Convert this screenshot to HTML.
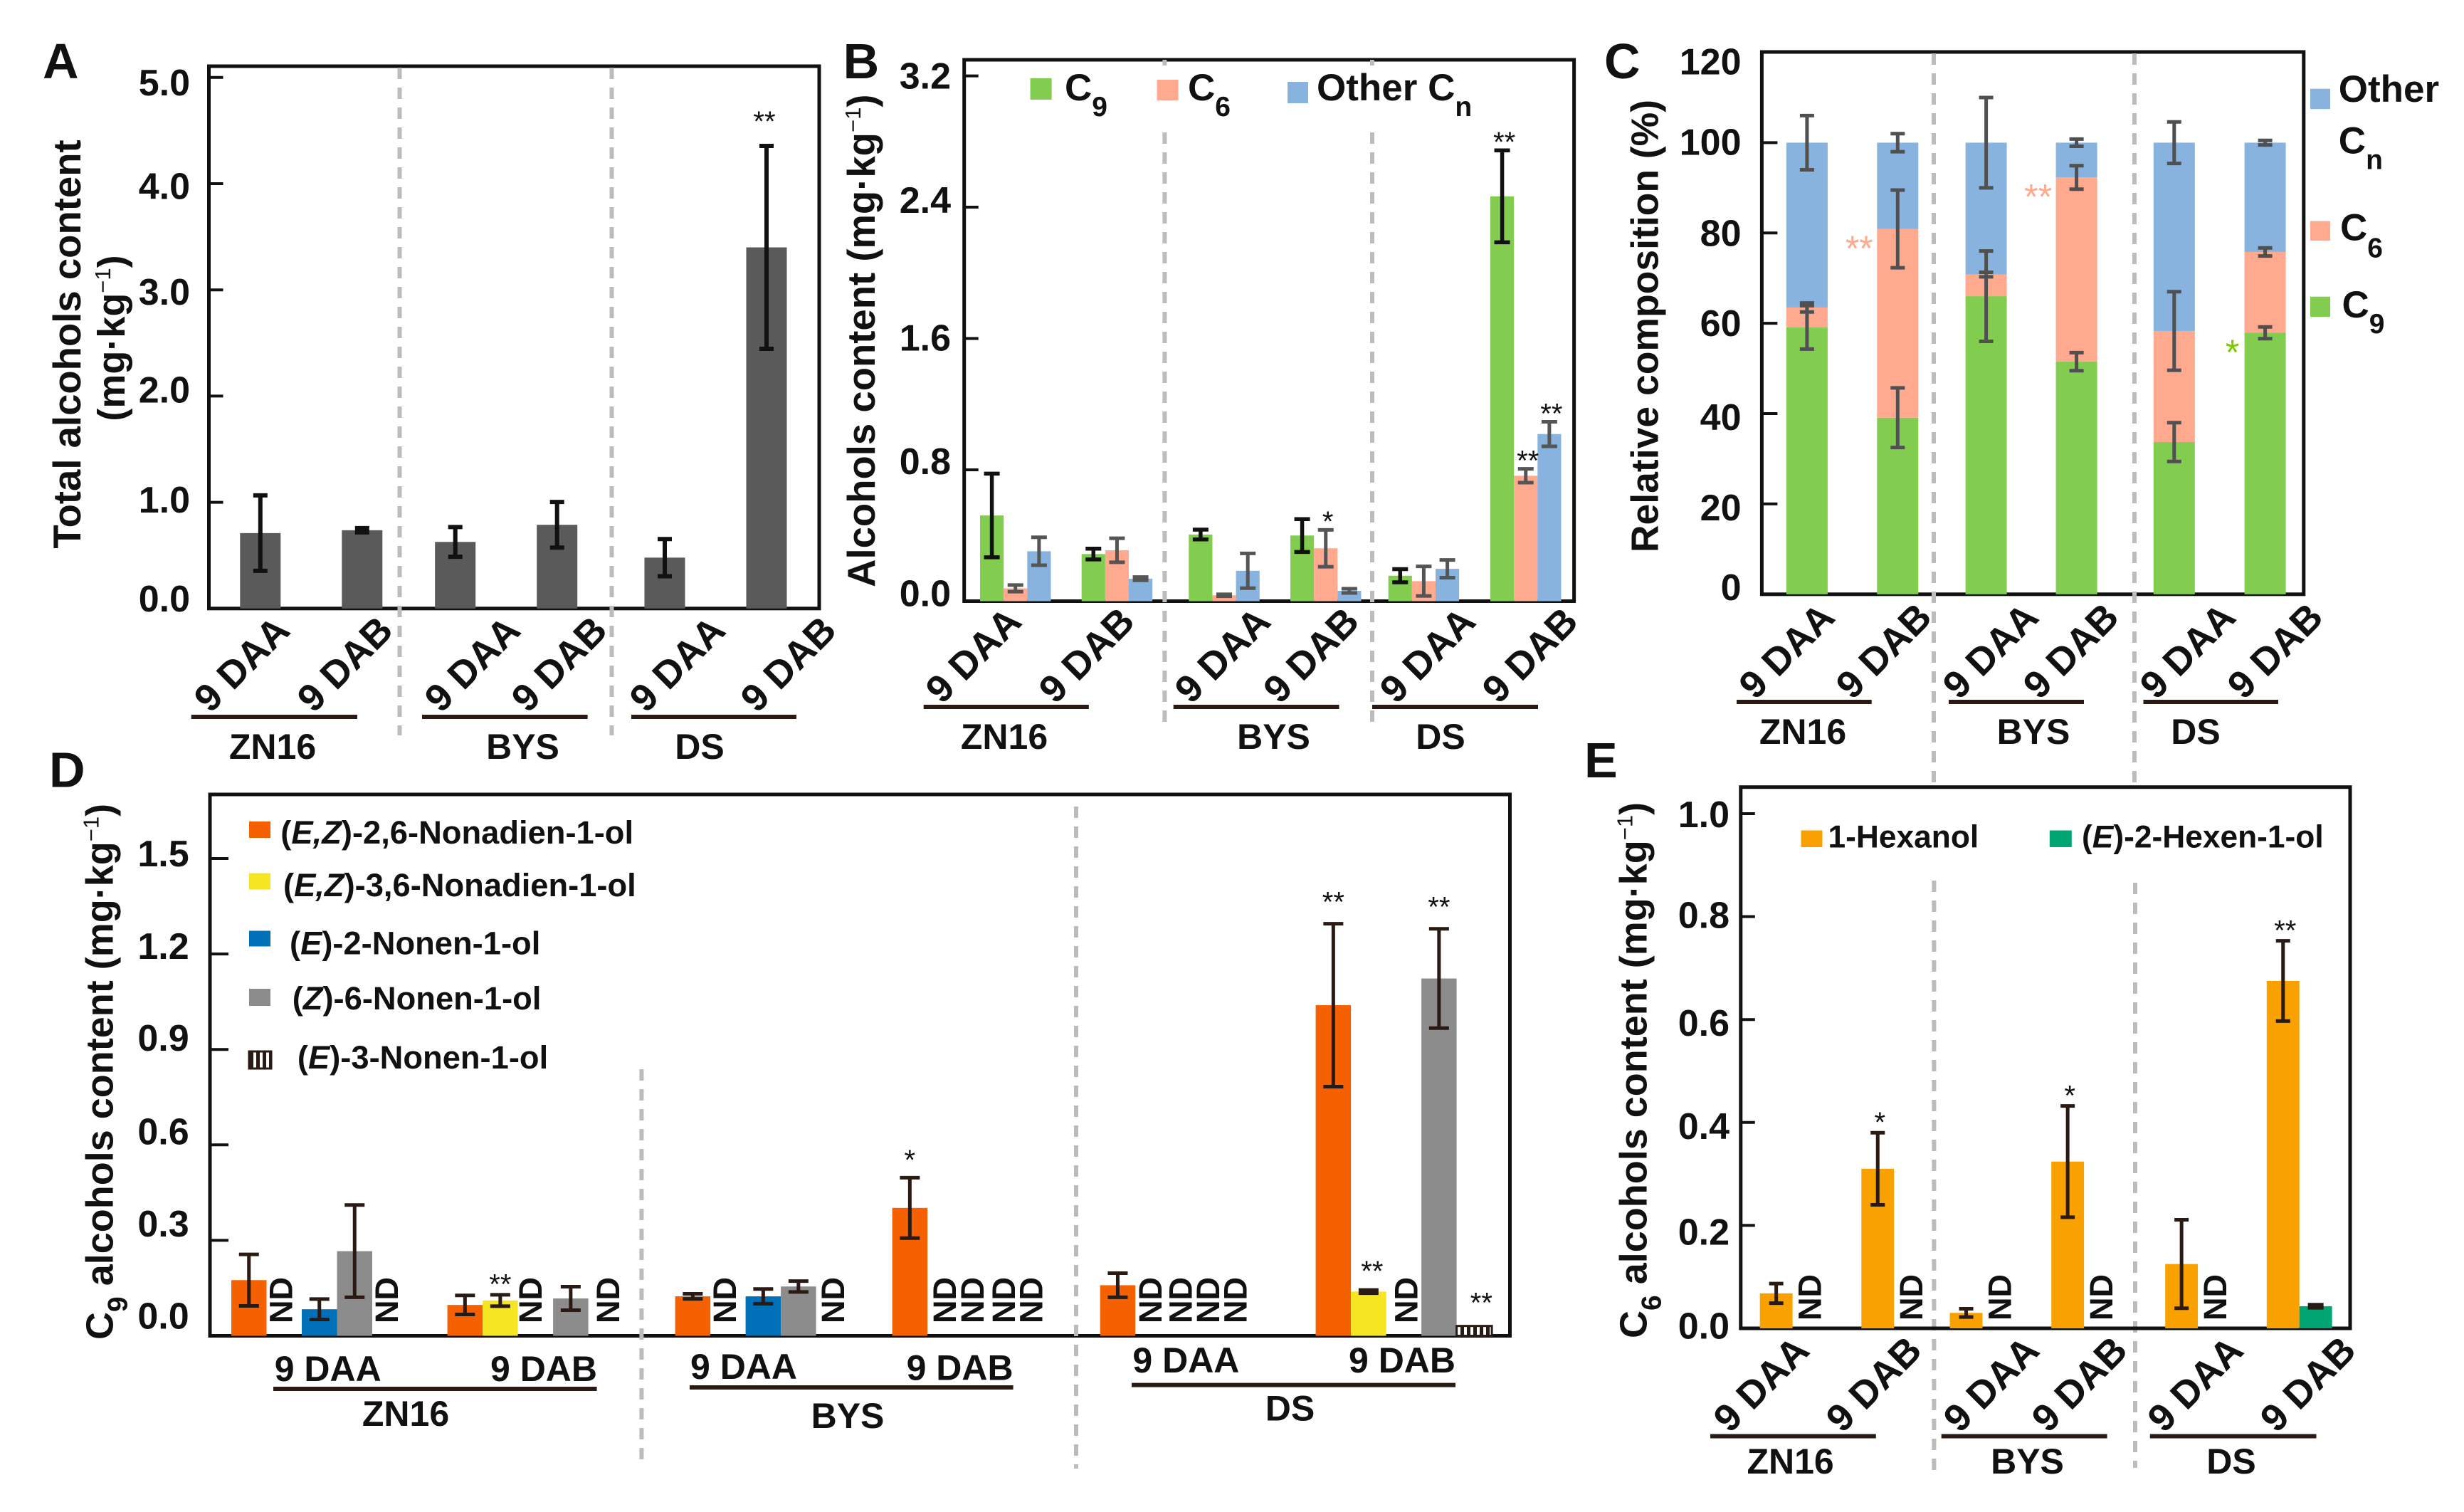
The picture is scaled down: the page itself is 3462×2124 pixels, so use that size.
<!DOCTYPE html>
<html lang="en">
<head>
<meta charset="utf-8">
<title>Alcohols content charts</title>
<style>
html,body{margin:0;padding:0;background:#fff}
svg{display:block}
text{font-family:"Liberation Sans",sans-serif;font-weight:700;fill:#111}
.it{font-style:italic}
.sep{stroke:#bcbcbc;stroke-width:6;stroke-dasharray:16 12;fill:none}
.frame{fill:none;stroke:#111;stroke-width:5}
.rule{stroke:#2a1a14;stroke-width:6}
</style>
</head>
<body>
<svg id="figure" xmlns="http://www.w3.org/2000/svg" width="3462" height="2124" viewBox="0 0 3462 2124">
<defs>
<pattern id="hatch" patternUnits="userSpaceOnUse" width="9" height="9"><rect width="9" height="9" fill="#fff"/><rect width="5" height="9" fill="#2a1a14"/></pattern>
</defs>
<rect width="3462" height="2124" fill="#fff"/>

<!-- Panel A static -->
<g>
<text x="60" y="110" font-size="70">A</text>
<rect class="frame" x="293.5" y="93" width="857.5" height="761.8"/>
<line class="sep" x1="561.5" y1="95" x2="561.5" y2="1033"/>
<line class="sep" x1="859.5" y1="95" x2="859.5" y2="1033"/>
<text transform="translate(113,483.5) rotate(-90)" text-anchor="middle" font-size="54.5">Total alcohols content</text>
<text transform="translate(175,475) rotate(-90)" text-anchor="middle" font-size="54">(mg·kg<tspan dy="-20" font-size="31" font-weight="400">−1</tspan><tspan dy="20">)</tspan></text>
<line class="rule" x1="268.7" y1="1007" x2="502" y2="1007"/>
<line class="rule" x1="593" y1="1007" x2="825.6" y2="1007"/>
<line class="rule" x1="887" y1="1007" x2="1119" y2="1007"/>
<text x="383" y="1066" text-anchor="middle" font-size="50">ZN16</text>
<text x="734.5" y="1066" text-anchor="middle" font-size="50">BYS</text>
<text x="983" y="1066" text-anchor="middle" font-size="50">DS</text>
</g>

<!-- Panel B static -->
<g>
<text x="1184.6" y="110" font-size="70">B</text>
<rect class="frame" x="1354.7" y="84" width="856.9" height="760.5"/>
<line class="sep" x1="1636.4" y1="84" x2="1636.4" y2="92"/>
<line class="sep" x1="1928" y1="84" x2="1928" y2="92"/>
<line class="sep" x1="1636.4" y1="186" x2="1636.4" y2="1019"/>
<line class="sep" x1="1928" y1="186" x2="1928" y2="1019"/>
<text transform="translate(1229,478.7) rotate(-90)" text-anchor="middle" font-size="54.5">Alcohols content (mg·kg<tspan dy="-20" font-size="31" font-weight="400">−1</tspan><tspan dy="20">)</tspan></text>
<g>
<rect x="1447.6" y="110" width="30" height="30" fill="#82cc4f"/>
<text x="1496" y="141" font-size="53">C<tspan dy="22" font-size="39">9</tspan></text>
<rect x="1625.6" y="112" width="30" height="29" fill="#ffaa8f"/>
<text x="1669" y="141" font-size="53">C<tspan dy="22" font-size="39">6</tspan></text>
<rect x="1809" y="115" width="29" height="30" fill="#87b3de"/>
<text x="1850" y="141" font-size="53">Other C<tspan dy="22" font-size="39">n</tspan></text>
</g>
<line class="rule" x1="1297.7" y1="993" x2="1529.8" y2="993"/>
<line class="rule" x1="1648.7" y1="993" x2="1881.5" y2="993"/>
<line class="rule" x1="1928" y1="993" x2="2161" y2="993"/>
<text x="1411" y="1052" text-anchor="middle" font-size="50">ZN16</text>
<text x="1789.5" y="1052" text-anchor="middle" font-size="50">BYS</text>
<text x="2024" y="1052" text-anchor="middle" font-size="50">DS</text>
</g>

<!-- Panel C static -->
<g>
<text x="2254" y="110" font-size="70">C</text>
<rect class="frame" x="2475.4" y="73" width="761.4" height="761.8"/>
<line class="sep" x1="2717" y1="75" x2="2717" y2="1105"/>
<line class="sep" x1="2999" y1="75" x2="2999" y2="1105"/>
<text transform="translate(2329.6,458) rotate(-90)" text-anchor="middle" font-size="53.5">Relative composition (%)</text>
<g>
<rect x="3246" y="124.7" width="28" height="28.5" fill="#87b3de"/>
<text x="3285.8" y="143" font-size="53">Other</text>
<text x="3285.8" y="215.6" font-size="53">C<tspan dy="22" font-size="39">n</tspan></text>
<rect x="3246" y="310.6" width="28" height="27.5" fill="#ffaa8f"/>
<text x="3288" y="337.5" font-size="53">C<tspan dy="24" font-size="39">6</tspan></text>
<rect x="3246" y="416.7" width="28" height="28.5" fill="#82cc4f"/>
<text x="3290.5" y="446" font-size="53">C<tspan dy="22" font-size="39">9</tspan></text>
</g>
<line class="rule" x1="2440" y1="986" x2="2629.7" y2="986"/>
<line class="rule" x1="2738" y1="986" x2="2928" y2="986"/>
<line class="rule" x1="3011.5" y1="986" x2="3201" y2="986"/>
<text x="2533" y="1045" text-anchor="middle" font-size="50">ZN16</text>
<text x="2857" y="1045" text-anchor="middle" font-size="50">BYS</text>
<text x="3085" y="1045" text-anchor="middle" font-size="50">DS</text>
</g>

<!-- Panel D static -->
<g>
<text x="69" y="1105.7" font-size="70">D</text>
<rect class="frame" x="295" y="1116" width="1826.5" height="760.5"/>
<line class="sep" x1="901.4" y1="1502" x2="901.4" y2="2060"/>
<line class="sep" x1="1512" y1="1133" x2="1512" y2="2063"/>
<text transform="translate(158.6,1882) rotate(-90)" font-size="54">C<tspan dy="20" font-size="39">9</tspan><tspan dy="-20"> alcohols content (mg·kg</tspan><tspan dy="-20" font-size="31" font-weight="400">−1</tspan><tspan dy="20">)</tspan></text>
<g>
<rect x="350" y="1154" width="30" height="23" fill="#f56000"/>
<text x="394.3" y="1185" font-size="45.3">(<tspan class="it">E,Z</tspan>)-2,6-Nonadien-1-ol</text>
<rect x="350" y="1226.6" width="30" height="23" fill="#f5e522"/>
<text x="398" y="1259" font-size="45.3">(<tspan class="it">E,Z</tspan>)-3,6-Nonadien-1-ol</text>
<rect x="350" y="1307.5" width="30" height="22" fill="#0070b8"/>
<text x="407" y="1340.7" font-size="45.3">(<tspan class="it">E</tspan>)-2-Nonen-1-ol</text>
<rect x="350" y="1389" width="30" height="24" fill="#8c8c8c"/>
<text x="410.7" y="1418" font-size="45.3">(<tspan class="it">Z</tspan>)-6-Nonen-1-ol</text>
<rect x="350" y="1477" width="31" height="24" fill="url(#hatch)" stroke="#2a1a14" stroke-width="3"/>
<text x="417.9" y="1501" font-size="45.3">(<tspan class="it">E</tspan>)-3-Nonen-1-ol</text>
</g>
<line class="rule" x1="384" y1="1951" x2="838.6" y2="1951"/>
<line class="rule" x1="969" y1="1949" x2="1423.6" y2="1949"/>
<line class="rule" x1="1590" y1="1945.6" x2="2045" y2="1945.6"/>
<text x="570" y="2003" text-anchor="middle" font-size="50">ZN16</text>
<text x="1191" y="2006" text-anchor="middle" font-size="50">BYS</text>
<text x="1812.5" y="1995.4" text-anchor="middle" font-size="50">DS</text>
</g>

<!-- Panel E static -->
<g>
<text x="2226" y="1092" font-size="70">E</text>
<line class="sep" x1="2717.4" y1="1237" x2="2717.4" y2="2065"/>
<line class="sep" x1="3000" y1="1240" x2="3000" y2="2062"/>
<rect class="frame" x="2445.8" y="1105.7" width="856.2" height="760.3"/>
<text transform="translate(2313.5,1880) rotate(-90)" font-size="54">C<tspan dy="20" font-size="39">6</tspan><tspan dy="-20"> alcohols content (mg·kg</tspan><tspan dy="-20" font-size="31" font-weight="400">−1</tspan><tspan dy="20">)</tspan></text>
<g>
<rect x="2530.5" y="1166.5" width="30" height="23.5" fill="#f9a100"/>
<text x="2568.5" y="1190.7" font-size="44.3">1-Hexanol</text>
<rect x="2879.8" y="1166.5" width="31" height="23.5" fill="#00a571"/>
<text x="2925" y="1190.7" font-size="44.3">(<tspan class="it">E</tspan>)-2-Hexen-1-ol</text>
</g>
<line class="rule" x1="2403" y1="2017.5" x2="2635.8" y2="2017.5"/>
<line class="rule" x1="2727.7" y1="2017.5" x2="2960.6" y2="2017.5"/>
<line class="rule" x1="3020.8" y1="2017.5" x2="3254.5" y2="2017.5"/>
<text x="2515.6" y="2070" text-anchor="middle" font-size="50">ZN16</text>
<text x="2848.5" y="2070" text-anchor="middle" font-size="50">BYS</text>
<text x="3135" y="2070" text-anchor="middle" font-size="50">DS</text>
</g>

<g id="marks"></g>
</svg>

<script>
// Shared category labels
const stageLabels = ['9 DAA','9 DAB','9 DAA','9 DAB','9 DAA','9 DAB'];

// Panel A data
const aTicks = [0,1,2,3,4,5];
const aTickLabels = ['0.0','1.0','2.0','3.0','4.0','5.0'];
const aValues = [0.71,0.737,0.627,0.788,0.479,3.40];
const aErrors = [0.355,0.02,0.14,0.215,0.175,0.955];
const aStars = ['','','','','','**'];

// Panel B data
const bTicks = [0,0.8,1.6,2.4,3.2];
const bTickLabels = ['0.0','0.8','1.6','2.4','3.2'];
const bC9 = [0.522,0.287,0.406,0.40,0.155,2.466];
const bC9Err = [0.255,0.033,0.03,0.10,0.04,0.28];
const bC6 = [0.078,0.31,0.036,0.322,0.122,0.764];
const bC6Err = [0.02,0.073,0.006,0.112,0.09,0.042];
const bOther = [0.304,0.137,0.185,0.063,0.197,1.018];
const bOtherErr = [0.085,0.01,0.106,0.013,0.054,0.075];
const bC9Stars = ['','','','','','**'];
const bC6Stars = ['','','','*','','**'];
const bOtherStars = ['','','','','','**'];

// Panel C data
const cTicks = [0,20,40,60,80,100,120];
const cTickLabels = ['0','20','40','60','80','100','120'];
const cC9 = [59.1,39.1,66.0,51.5,33.7,57.9];
const cC9Err = [4.8,6.6,10,2,4.3,1.3];
const cC6 = [4.4,41.8,4.8,40.8,24.6,17.9];
const cC6Err = [1,8.6,0.5,2.6,8.7,0.9];
const cOther = [36.5,19.1,29.2,7.7,41.7,24.2];
const cOtherErr = [6,2,10,0.8,4.6,0.5];
const cC6Stars = ['','**','','**','',''];
const cC9Stars = ['','','','','','*'];

// Panel D data (null = not detected)
const dTicks = [0,0.3,0.6,0.9,1.2,1.5];
const dTickLabels = ['0.0','0.3','0.6','0.9','1.2','1.5'];
const dEZ26 = [0.175,0.097,0.124,0.402,0.159,1.039];
const dEZ26Err = [0.081,0.03,0.008,0.095,0.038,0.256];
const dEZ36 = [null,0.111,null,null,null,0.139];
const dEZ36Err = [0,0.018,0,0,0,0.005];
const dE2 = [0.0835,null,0.124,null,null,null];
const dE2Err = [0.032,0,0.023,0,0,0];
const dZ6 = [0.266,0.1175,0.155,null,null,1.123];
const dZ6Err = [0.145,0.037,0.017,0,0,0.156];
const dE3 = [null,null,null,null,null,0.031];
const dE3Err = [0,0,0,0,0,0.004];
const dEZ26Stars = ['','','','*','','**'];
const dEZ36Stars = ['','**','','','','**'];
const dZ6Stars = ['','','','','','**'];
const dE3Stars = ['','','','','','**'];

// Panel E data (null = not detected)
const eTicks = [0,0.2,0.4,0.6,0.8,1.0];
const eTickLabels = ['0.0','0.2','0.4','0.6','0.8','1.0'];
const eHexanol = [0.068,0.31,0.03,0.324,0.125,0.675];
const eHexanolErr = [0.019,0.07,0.008,0.108,0.086,0.078];
const eHexenol = [null,null,null,null,null,0.043];
const eHexenolErr = [0,0,0,0,0,0.003];
const eStars = ['','*','','*','','**'];

const root = document.getElementById('marks');
const NS = 'http://www.w3.org/2000/svg';

function mk(tag, name, attrs, parent) {
  const el = document.createElementNS(NS, tag);
  
  
  for (const k in attrs) el.setAttribute(k, attrs[k]);
  (parent || root).appendChild(el);
  return el;
}
function linearY(yZero, pxPerUnit) { return v => yZero - v * pxPerUnit; }

function drawYAxis(panel, ticks, labels, y, xFrame, tickLen, labelRight, nudges) {
  ticks.forEach((t, i) => {
    mk('line', panel + '-y-tick', {x1:xFrame, x2:xFrame + tickLen, y1:y(t), y2:y(t), stroke:'#111', 'stroke-width':4});
    const lab = mk('text', panel + '-y-tick-label', {x:labelRight, y:y(t) + nudges[i] + 18, 'text-anchor':'end', 'font-size':52});
    lab.textContent = labels[i];
  });
}
function drawSlanted(panel, endX, endY) {
  stageLabels.forEach((s, i) => {
    const lab = mk('text', panel + '-x-label', {transform:'translate(' + endX(i) + ',' + endY + ') rotate(-45)', 'text-anchor':'end', 'font-size':54});
    lab.textContent = s;
  });
}
function bar(name, x, w, yTop, yBase, fill, extra) {
  const attrs = {x:x, y:yTop, width:w, height:Math.max(0, yBase - yTop), fill:fill};
  if (extra) for (const k in extra) attrs[k] = extra[k];
  return mk('rect', name, attrs);
}
function errBar(name, x, yUp, yDown, cap, color, sw) {
  const h = cap / 2;
  const d = 'M' + (x-h) + ' ' + yUp + 'H' + (x+h) + 'M' + x + ' ' + yUp + 'V' + yDown + 'M' + (x-h) + ' ' + yDown + 'H' + (x+h);
  return mk('path', name, {d:d, fill:'none', stroke:color, 'stroke-width':sw});
}
function star(name, x, yCentre, str, size, color) {
  if (!str) return;
  const t = mk('text', name, {x:x, y:yCentre + 0.47 * size, 'text-anchor':'middle', 'font-size':size, style:'font-weight:400;fill:' + (color || '#111')});
  t.textContent = str;
}
function ndLabel(name, baseX, bottomY) {
  const t = mk('text', name, {transform:'translate(' + baseX + ',' + bottomY + ') rotate(-90)', 'font-size':45});
  t.textContent = 'ND';
}

/* Panel A */
const yA = linearY(854.8, 149.2);
const xA = i => [365.8,639.7,934][Math.floor(i/2)] + (i % 2) * 143;
drawYAxis('panel-a', aTicks, aTickLabels, yA, 293.5, 20, 267, [-14,-3.4,-9,2.8,3.4,7]);
aValues.forEach((v, i) => {
  bar('panel-a-bar', xA(i) - 28.5, 57, yA(v), 854.8, '#5a5a5a');
  errBar('panel-a-error-bar', xA(i), yA(v + aErrors[i]), yA(v - aErrors[i]), 20, '#111', 6);
  star('panel-a-significance', xA(i) - 3, yA(v + aErrors[i]) - 40, aStars[i], 40);
});
drawSlanted('panel-a', i => [410,555,734,856,1022,1178][i], 888.5);

/* Panel B */
const yB = linearY(844.5, 230.6);
const bW = 33.15;
const xB = (i, s) => [1377,1519.7,1670.3,1813,1950.7,2094][i] + s * bW;
drawYAxis('panel-b', bTicks, bTickLabels, yB, 1354.7, 20, 1336, [-11,-12,-1,-10,0]);
const bSeries = [
  {key:'c9', vals:bC9, errs:bC9Err, stars:bC9Stars, fill:'#82cc4f', ec:'#111', sw:5.5},
  {key:'c6', vals:bC6, errs:bC6Err, stars:bC6Stars, fill:'#ffaa8f', ec:'#555', sw:5},
  {key:'other', vals:bOther, errs:bOtherErr, stars:bOtherStars, fill:'#87b3de', ec:'#555', sw:5}
];
bSeries.forEach((ser, s) => {
  ser.vals.forEach((v, i) => {
    bar('panel-b-bar-' + ser.key, xB(i, s), bW, yB(v), 844.5, ser.fill);
  });
});
bSeries.forEach((ser, s) => {
  ser.vals.forEach((v, i) => {
    const cx = xB(i, s) + bW / 2;
    errBar('panel-b-error-' + ser.key, cx, yB(v + ser.errs[i]), yB(v - ser.errs[i]), 22, ser.ec, ser.sw);
    star('panel-b-significance', cx + 3, yB(v + ser.errs[i]) - 17, ser.stars[i], 40);
  });
});
drawSlanted('panel-b', i => [1438,1597,1788,1912.5,2076,2220][i], 876);

/* Panel C */
const yC = linearY(834.8, 6.344);
const cW = 58;
const xC = i => [2538.9,2666.3,2790.6,2917.6,3054.8,3182.6][i];
drawYAxis('panel-c', cTicks, cTickLabels, yC, 2475.4, 22, 2446.5, [-10,5,5,0,0,-1,13]);
cC9.forEach((v, i) => {
  const t1 = v, t2 = v + cC6[i], t3 = t2 + cOther[i];
  bar('panel-c-segment-c9', xC(i) - cW/2, cW, yC(t1), yC(0), '#82cc4f');
  bar('panel-c-segment-c6', xC(i) - cW/2, cW, yC(t2), yC(t1), '#ffaa8f');
  bar('panel-c-segment-other', xC(i) - cW/2, cW, yC(t3), yC(t2), '#87b3de');
});
cC9.forEach((v, i) => {
  const t1 = v, t2 = v + cC6[i], t3 = t2 + cOther[i];
  errBar('panel-c-error-c9', xC(i), yC(t1 + cC9Err[i]), yC(t1 - cC9Err[i]), 20, '#505050', 5);
  errBar('panel-c-error-c6', xC(i), yC(t2 + cC6Err[i]), yC(t2 - cC6Err[i]), 20, '#505050', 5);
  errBar('panel-c-error-other', xC(i), yC(t3 + cOtherErr[i]), yC(t3 - cOtherErr[i]), 20, '#505050', 5);
  star('panel-c-significance-c6', xC(i) - 54, yC(t2) + 21, cC6Stars[i], 50, '#ffaa8f');
  star('panel-c-significance-c9', xC(i) - 46, yC(t1) + 21, cC9Stars[i], 50, '#7ec800');
});
drawSlanted('panel-c', i => [2580.6,2717,2867,2980,3144,3267][i], 870);

/* Panel D */
const yD = linearY(1876.5, 447);
const dW = 49.5;
const xD = (g, s) => [325,628.6,948.6,1253.6,1545.7,1848.6][g] + s * dW;
const dNdOffset = {'1-0':36,'4-0':36,'2-1':33.6,'4-1':43.6,'1-2':36,'4-2':39.6,'1-3':40,'2-3':29.6,'3-3':23.7,'4-3':12.7,'1-4':37,'2-4':30,'3-4':19,'4-4':8,'2-5':44};
drawYAxis('panel-d', dTicks, dTickLabels, yD, 295, 26, 265.7, [-28,-23.5,-19,-16,-11,-7]);
const dSeries = [
  {key:'ez26', vals:dEZ26, errs:dEZ26Err, stars:dEZ26Stars, fill:'#f56000', gap:[0,0,0,30,0,36]},
  {key:'ez36', vals:dEZ36, errs:dEZ36Err, stars:dEZ36Stars, fill:'#f5e522', gap:[0,20,0,0,0,32]},
  {key:'e2', vals:dE2, errs:dE2Err, stars:['','','','','',''], fill:'#0070b8', gap:[0,0,0,0,0,0]},
  {key:'z6', vals:dZ6, errs:dZ6Err, stars:dZ6Stars, fill:'#8c8c8c', gap:[0,0,0,0,0,36]},
  {key:'e3', vals:dE3, errs:dE3Err, stars:dE3Stars, fill:'url(#hatch)', gap:[0,0,0,0,0,36]}
];
dSeries.forEach((ser, s) => {
  ser.vals.forEach((v, g) => {
    if (v === null) {
      ndLabel('panel-d-not-detected', xD(g, s) + dNdOffset[s + '-' + g], 1859);
      return;
    }
    const cx = xD(g, s) + dW / 2;
    const extra = ser.key === 'e3' ? {stroke:'#2a1a14', 'stroke-width':3} : null;
    bar('panel-d-bar-' + ser.key, xD(g, s), dW, yD(v), 1876.5, ser.fill, extra);
    if (ser.key !== 'e3') {
      errBar('panel-d-error-' + ser.key, cx, yD(v + ser.errs[g]), yD(v - ser.errs[g]), 28, '#2a1a14', 5);
    }
    star('panel-d-significance', cx + (ser.key === 'e3' ? 10 : ser.key === 'ez36' && g === 5 ? 5 : 0), yD(v + ser.errs[g]) - ser.gap[g], ser.stars[g], 40);
  });
});
stageLabels.forEach((s, i) => {
  const lab = mk('text', 'panel-d-x-label', {x:[385.7,689,970,1273.6,1591.4,1895][i], y:[1940,1940,1937,1938.7,1928,1928][i], 'font-size':50});
  lab.textContent = s;
});

/* Panel E */
const yE = linearY(1866, 723);
const eW = 45.9;
const xE = i => [2472.7,2615.3,2739.6,2882.2,3042.2,3184.8][i];
drawYAxis('panel-e', eTicks, eTickLabels, yE, 2445.8, 20, 2430, [-3.5,9,5,5,-2,1]);
eHexanol.forEach((v, i) => {
  bar('panel-e-bar-hexanol', xE(i), eW, yE(v), 1866, '#f9a100');
  const cx = xE(i) + eW / 2;
  errBar('panel-e-error-hexanol', cx, yE(v + eHexanolErr[i]), yE(v - eHexanolErr[i]), 20, '#2a1a14', 5);
  star('panel-e-significance', cx + 3, yE(v + eHexanolErr[i]) - 20, eStars[i], 40);
  const h = eHexenol[i];
  if (h === null) {
    ndLabel('panel-e-not-detected', xE(i) + eW + 40, 1855);
  } else {
    bar('panel-e-bar-hexenol', xE(i) + eW, eW, yE(h), 1866, '#00a571');
    errBar('panel-e-error-hexenol', xE(i) + eW * 1.5, yE(h + eHexenolErr[i]), yE(h - eHexenolErr[i]), 22, '#2a1a14', 5);
  }
});
drawSlanted('panel-e', i => [2544.8,2703,2868,2992,3154.7,3313][i], 1900);
</script>
</body>
</html>
